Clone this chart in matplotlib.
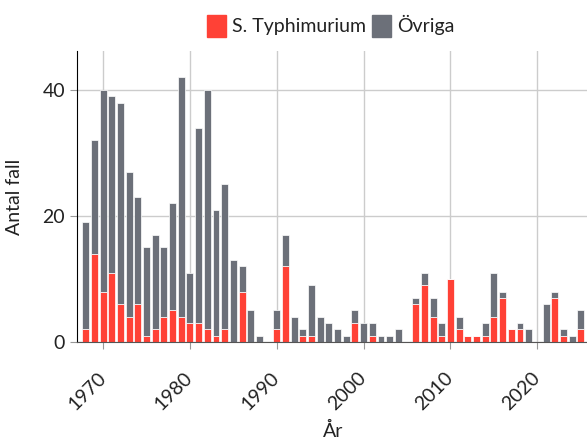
import matplotlib.pyplot as plt
import numpy as np
from matplotlib.patches import Patch

plt.rcParams['font.family'] = ['Lato', 'DejaVu Sans']

years = np.arange(1968, 2026)
# totalt antal fall per år
total = [19, 32, 40, 39, 38, 27, 23, 15, 17, 15, 22, 42, 11, 34, 40, 21, 25, 13, 12, 5, 1,
         0, 5, 17, 4, 2, 9, 4, 3, 2, 1, 5, 3, 3, 1, 1, 2, 0,
         7, 11, 7, 3, 10, 4, 1, 1, 3, 11, 8, 2, 3, 2, 0, 6, 8, 2, 1, 5]
# S. Typhimurium
typh = [2, 14, 8, 11, 6, 4, 6, 1, 2, 4, 5, 4, 3, 3, 2, 1, 2, 0, 8, 0, 0,
        0, 2, 12, 0, 1, 1, 0, 0, 0, 0, 3, 0, 1, 0, 0, 0, 0,
        6, 9, 4, 1, 10, 2, 1, 1, 1, 4, 7, 2, 2, 0, 0, 0, 7, 1, 0, 2]

typh = np.array(typh)
ovriga = np.array(total) - typh

red = '#ff4136'
gray = '#6c7079'
txt = '#222222'
fs = 14

fig = plt.figure(figsize=(5.87, 4.41), dpi=100)
ax = fig.add_axes([0.1312, 0.2245, 0.873, 0.66])

ax.bar(years, typh, width=0.8, color=red, edgecolor='white', linewidth=0.5, zorder=2)
ax.bar(years, ovriga, bottom=typh, width=0.8, color=gray, edgecolor='white', linewidth=0.5, zorder=2)

ax.set_xlim(1967, 2026)
ax.set_ylim(0, 46.2)
ax.set_yticks([0, 20, 40])
ax.set_xticks([1970, 1980, 1990, 2000, 2010, 2020])
ax.grid(True, color='#cccccc', linewidth=1, zorder=0)
ax.set_axisbelow(True)

for s in ['top', 'right']:
    ax.spines[s].set_visible(False)
ax.spines['left'].set_color('black')
ax.spines['bottom'].set_color('#555555')
ax.tick_params(axis='both', colors='#999999', labelcolor=txt, labelsize=fs, length=5)
ax.tick_params(axis='x', pad=19)
plt.setp(ax.get_xticklabels(), rotation=45, ha='right', va='center', rotation_mode='anchor')

ax.set_xlabel('År', fontsize=fs, color=txt)
ax.xaxis.set_label_coords(0.5, -0.275)
ax.set_ylabel('Antal fall', fontsize=fs, color=txt)
ax.yaxis.set_label_coords(-0.105, 0.5)

handles = [Patch(color=red), Patch(color=gray)]
fig.legend(handles, ['S. Typhimurium', 'Övriga'], loc='center', bbox_to_anchor=(0.563, 0.941),
           ncol=2, frameon=False, fontsize=fs, handlelength=1.0, handleheight=1.4,
           handletextpad=0.3, columnspacing=0.3, labelcolor=txt)

fig.savefig('out.png', dpi=100)
